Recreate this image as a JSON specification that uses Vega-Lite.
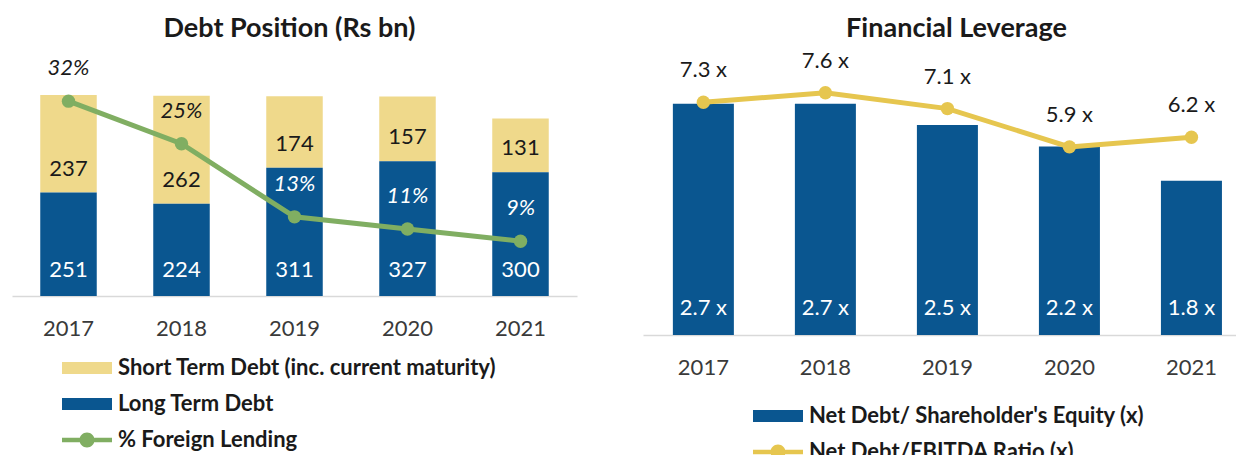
{
  "$schema": "https://vega.github.io/schema/vega-lite/v6.json",
  "background": "white",
  "padding": {"left": 12, "top": 14, "right": 0, "bottom": 0},
  "spacing": 66,
  "config": {
    "view": {"stroke": null},
    "font": "Lato",
    "text": {"font": "Lato", "fontSize": 22, "color": "#262626"},
    "axis": {"domainColor": "#d9d9d9", "domainWidth": 1.5, "ticks": false, "grid": false, "labelFont": "Lato", "labelFontSize": 22, "labelColor": "#3a3a3a", "labelPadding": 22},
    "title": {"font": "Lato", "fontSize": 27, "fontWeight": "bold", "color": "#1a1a1a", "anchor": "middle", "baseline": "middle", "frame": "group"},
    "legend": {"title": null, "orient": "none", "symbolSize": 2500, "labelFont": "Lato", "labelFontSize": 22, "labelFontWeight": "bold", "labelColor": "#1a1a1a", "labelOffset": 6, "padding": 0, "labelLimit": 600}
  },
  "resolve": {"scale": {"color": "independent", "x": "independent", "y": "independent"}, "legend": {"color": "independent"}},
  "hconcat": [
    {
      "width": 565,
      "height": 218,
      "title": {"text": "Debt Position (Rs bn)", "offset": 14, "dx": -5},
      "data": {"values": [
        {"year": "2017", "lt": 251, "st": 237, "pct": 0.32},
        {"year": "2018", "lt": 224, "st": 262, "pct": 0.25},
        {"year": "2019", "lt": 311, "st": 174, "pct": 0.13},
        {"year": "2020", "lt": 327, "st": 157, "pct": 0.11},
        {"year": "2021", "lt": 300, "st": 131, "pct": 0.09}
      ]},
      "encoding": {
        "x": {"field": "year", "type": "ordinal", "scale": {"paddingInner": 0.5, "paddingOuter": 0.25}, "axis": {"title": null, "labelAngle": 0}}
      },
      "layer": [
        {
          "layer": [
            {
              "transform": [{"fold": ["st", "lt"], "as": ["series", "value"]}],
              "mark": {"type": "bar"},
              "encoding": {
                "y": {"field": "value", "type": "quantitative", "stack": "zero", "scale": {"domain": [0, 529], "nice": false}, "axis": null},
                "order": {"field": "series", "sort": "ascending"},
                "color": {
                  "field": "series", "type": "nominal",
                  "scale": {"domain": ["st", "lt", "pct"], "range": ["#efd98b", "#0a5690", "#80ae62"]},
                  "legend": {
                    "legendX": 50, "legendY": 265, "rowPadding": 0,
                    "labelExpr": "datum.value === 'st' ? 'Short Term Debt (inc. current maturity)' : datum.value === 'lt' ? 'Long Term Debt' : '% Foreign Lending'",
                    "encode": {"symbols": {"update": {
                      "shape": {"signal": "datum.value === 'pct' ? 'M-1,-0.09H1V0.09H-1Z M-0.3,0A0.3,0.3 0 1,1 0.3,0A0.3,0.3 0 1,1 -0.3,0Z' : 'M-1,-0.24H1V0.24H-1Z'"},
                      "fill": {"signal": "datum.value === 'pct' ? '#80ae62' : datum.value === 'st' ? '#efd98b' : '#0a5690'"},
                      "stroke": {"value": "transparent"},
                      "strokeWidth": {"value": 0},
                      "opacity": {"value": 1}
                    }}}
                  }
                }
              }
            },
            {
              "mark": {"type": "text", "dy": -26, "color": "white"},
              "encoding": {
                "y": {"datum": 0, "type": "quantitative", "axis": null},
                "text": {"field": "lt", "type": "quantitative"}
              }
            },
            {
              "mark": {"type": "text", "dy": -24, "color": "#1a1a1a"},
              "encoding": {
                "y": {"field": "lt", "type": "quantitative", "axis": null},
                "text": {"field": "st", "type": "quantitative"}
              }
            }
          ]
        },
        {
          "layer": [
            {
              "mark": {"type": "line", "strokeWidth": 5, "point": {"filled": true, "size": 180}},
              "encoding": {
                "y": {"field": "pct", "type": "quantitative", "scale": {"domain": [0, 0.358], "nice": false}, "axis": null},
                "color": {"datum": "pct", "type": "nominal"}
              }
            },
            {
              "mark": {"type": "text", "dy": -33, "fontStyle": "italic"},
              "encoding": {
                "y": {"field": "pct", "type": "quantitative", "axis": null},
                "text": {"field": "pct", "type": "quantitative", "format": ".0%"},
                "color": {"condition": {"test": "datum.pct > 0.2", "value": "#1a1a1a"}, "value": "white"}
              }
            }
          ]
        }
      ],
      "resolve": {"scale": {"y": "independent"}}
    },
    {
      "width": 593,
      "height": 257,
      "title": {"text": "Financial Leverage", "offset": 7, "dx": 17},
      "data": {"values": [
        {"year": "2017", "eq": 2.7, "ebitda": 7.3},
        {"year": "2018", "eq": 2.7, "ebitda": 7.6},
        {"year": "2019", "eq": 2.45, "ebitda": 7.1},
        {"year": "2020", "eq": 2.2, "ebitda": 5.9},
        {"year": "2021", "eq": 1.8, "ebitda": 6.2}
      ]},
      "transform": [
        {"calculate": "format(datum.eq, '.1f') + ' x'", "as": "eqLabel"},
        {"calculate": "format(datum.ebitda, '.1f') + ' x'", "as": "ebitdaLabel"}
      ],
      "encoding": {
        "x": {"field": "year", "type": "ordinal", "scale": {"paddingInner": 0.5, "paddingOuter": 0.18, "align": 0.68}, "axis": {"title": null, "labelAngle": 0}}
      },
      "layer": [
        {
          "layer": [
            {
              "mark": {"type": "bar"},
              "encoding": {
                "y": {"field": "eq", "type": "quantitative", "scale": {"domain": [0, 3], "nice": false}, "axis": null},
                "color": {
                  "datum": "eq", "type": "nominal",
                  "scale": {"domain": ["eq", "ebitda"], "range": ["#0a5690", "#e6c64f"]},
                  "legend": {
                    "legendX": 110, "legendY": 313, "rowPadding": 0,
                    "labelExpr": "datum.value === 'eq' ? \"Net Debt/ Shareholder's Equity (x)\" : 'Net Debt/EBITDA Ratio (x)'",
                    "encode": {"symbols": {"update": {
                      "shape": {"signal": "datum.value === 'ebitda' ? 'M-1,-0.09H1V0.09H-1Z M-0.3,0A0.3,0.3 0 1,1 0.3,0A0.3,0.3 0 1,1 -0.3,0Z' : 'M-1,-0.24H1V0.24H-1Z'"},
                      "fill": {"signal": "datum.value === 'ebitda' ? '#e6c64f' : '#0a5690'"},
                      "stroke": {"value": "transparent"},
                      "strokeWidth": {"value": 0},
                      "opacity": {"value": 1}
                    }}}
                  }
                }
              }
            },
            {
              "mark": {"type": "text", "dy": -27, "color": "white"},
              "encoding": {
                "y": {"datum": 0, "type": "quantitative", "axis": null},
                "text": {"field": "eqLabel", "type": "nominal"}
              }
            }
          ]
        },
        {
          "layer": [
            {
              "mark": {"type": "line", "strokeWidth": 5, "point": {"filled": true, "size": 180}},
              "encoding": {
                "y": {"field": "ebitda", "type": "quantitative", "scale": {"domain": [0, 8.06], "nice": false}, "axis": null},
                "color": {"datum": "ebitda", "type": "nominal"}
              }
            },
            {
              "mark": {"type": "text", "dy": -32, "color": "#1a1a1a"},
              "encoding": {
                "y": {"field": "ebitda", "type": "quantitative", "axis": null},
                "text": {"field": "ebitdaLabel", "type": "nominal"}
              }
            }
          ]
        }
      ],
      "resolve": {"scale": {"y": "independent"}}
    }
  ]
}
